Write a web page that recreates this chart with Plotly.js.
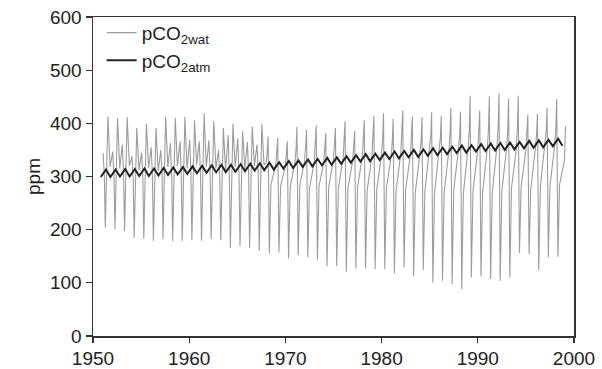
<!DOCTYPE html>
<html>
<head>
<meta charset="utf-8">
<script src="https://cdn.plot.ly/plotly-3.0.1.min.js"></script>
<style>html,body{margin:0;padding:0;background:#fff;}#chart{width:602px;height:369px;}</style>
</head>
<body>
<div id="chart"></div>
<script>
// Years of the record (one seasonal cycle per year)
const years = [1951,1952,1953,1954,1955,1956,1957,1958,1959,1960,
               1961,1962,1963,1964,1965,1966,1967,1968,1969,1970,
               1971,1972,1973,1974,1975,1976,1977,1978,1979,1980,
               1981,1982,1983,1984,1985,1986,1987,1988,1989,1990,
               1991,1992,1993,1994,1995,1996,1997,1998,1999];

// pCO2 water: yearly maximum (main spike), ppm
const watPeak = [413,410,412,391,399,391,412,410,412,406,
                 419,404,391,399,385,394,398,375,373,366,
                 394,388,396,382,391,404,385,406,414,419,
                 408,424,413,412,421,414,429,422,452,424,
                 451,456,446,452,416,418,429,446,420];
// pCO2 water: yearly minimum (downward spike), ppm
const watTrough = [204,201,197,185,183,179,182,179,179,180,
                   179,182,180,166,169,166,160,155,157,146,
                   152,148,144,131,131,121,127,127,126,126,
                   118,129,113,124,100,104,98,88,110,113,
                   107,104,110,156,154,123,148,149,150];
// pCO2 water: secondary hump, ppm
const watSecond = [344,347,360,338,345,355,350,363,366,369,
                   366,368,350,378,372,365,360,350,345,340,
                   355,360,358,352,360,365,355,368,372,375,
                   370,380,375,372,378,375,385,380,390,385,
                   392,395,390,392,380,382,388,392,395];
// pCO2 water: level between spikes, ppm
const watMid = [300,298,302,296,300,298,302,300,298,304,
                300,302,298,296,300,302,305,325,322,320,
                328,330,326,328,332,335,330,338,340,342,
                338,345,342,345,348,346,350,352,355,350,
                356,358,355,352,350,355,358,360,330];
// pCO2 water: low plateau after the spikes, ppm
const watLow = [318,315,320,312,316,310,318,320,315,322,
                318,316,312,318,314,320,322,285,282,280,
                284,278,282,280,276,278,280,274,276,278,
                272,275,270,272,268,270,275,268,272,270,
                268,272,278,280,276,280,282,285,285];

// pCO2 atmosphere: seasonal high and low, ppm
const atmHigh = [313,313,314,314,315,315,316,317,318,319,
                 320,321,322,322,323,324,325,326,327,329,
                 330,332,333,335,336,338,340,342,343,345,
                 347,348,350,351,353,354,356,358,359,361,
                 362,363,364,365,367,368,369,371,372];
const atmLow = [299,299,300,300,301,301,302,303,304,305,
                306,307,308,308,309,310,311,312,313,315,
                316,318,319,321,322,324,326,328,329,331,
                333,334,336,337,339,340,342,344,345,347,
                348,349,350,351,353,354,355,357,358];

const xTicks = [1950,1960,1970,1980,1990,2000];
const yTicks = [0,100,200,300,400,500,600];

const END = 1999.13;
const wx = [], wy = [];
for (let i = 0; i < years.length; i++) {
  const t = years[i];
  const pts = t < 1968
    ? [[0.05, watSecond[i]], [0.18, watMid[i]], [0.28, watTrough[i]], [0.55, watPeak[i]], [0.78, watLow[i]]]
    : [[0.00, watMid[i]], [0.12, watSecond[i]], [0.20, watPeak[i]], [0.33, watTrough[i]], [0.50, watLow[i]]];
  for (const [ph, v] of pts) {
    if (t + ph <= END) { wx.push(t + ph); wy.push(v); }
  }
}
const ax = [], ay = [];
for (let i = 0; i < years.length; i++) {
  const t = years[i];
  const pts = [[-0.2, atmLow[i]], [0.35, atmHigh[i]]];
  for (const [ph, v] of pts) {
    if (t + ph <= END) { ax.push(t + ph); ay.push(v); }
  }
}

const FONT = 'Liberation Sans, Arial, Helvetica, sans-serif';
const traces = [
  {x: wx, y: wy, type: 'scatter', mode: 'lines', name: 'pCO<sub>2wat</sub>',
   line: {color: '#9c9c9c', width: 1.1}},
  {x: ax, y: ay, type: 'scatter', mode: 'lines', name: 'pCO<sub>2atm</sub>',
   line: {color: '#222', width: 2}}
];

const layout = {
  width: 602, height: 369,
  margin: {l: 93, r: 28, t: 17, b: 33},
  paper_bgcolor: '#fff', plot_bgcolor: '#fff',
  font: {family: FONT, color: '#222', size: 19},
  showlegend: true,
  legend: {x: 0.018, y: 1.01, xanchor: 'left', yanchor: 'top',
           bgcolor: 'rgba(0,0,0,0)', font: {size: 19, family: FONT, color: '#222'},
           itemwidth: 30, tracegroupgap: 0},
  xaxis: {range: [1950, 2000], tickvals: xTicks, ticktext: xTicks.map(String),
          ticks: 'outside', ticklen: 5, tickwidth: 1.3, tickcolor: '#333',
          showline: true, linecolor: '#333', linewidth: 1.5, mirror: true,
          showgrid: false, zeroline: false, tickfont: {size: 19, family: FONT, color: '#222'}},
  yaxis: {range: [0, 600], tickvals: yTicks, ticktext: yTicks.map(String),
          ticks: 'outside', ticklen: 6, tickwidth: 1.3, tickcolor: '#333',
          showline: true, linecolor: '#333', linewidth: 1.5, mirror: true,
          showgrid: false, zeroline: false, tickfont: {size: 19, family: FONT, color: '#222'},
          title: {text: 'ppm', font: {size: 19, family: FONT, color: '#222'}, standoff: 4}}
};

Plotly.newPlot('chart', traces, layout, {displayModeBar: false, staticPlot: true});
</script>
</body>
</html>
